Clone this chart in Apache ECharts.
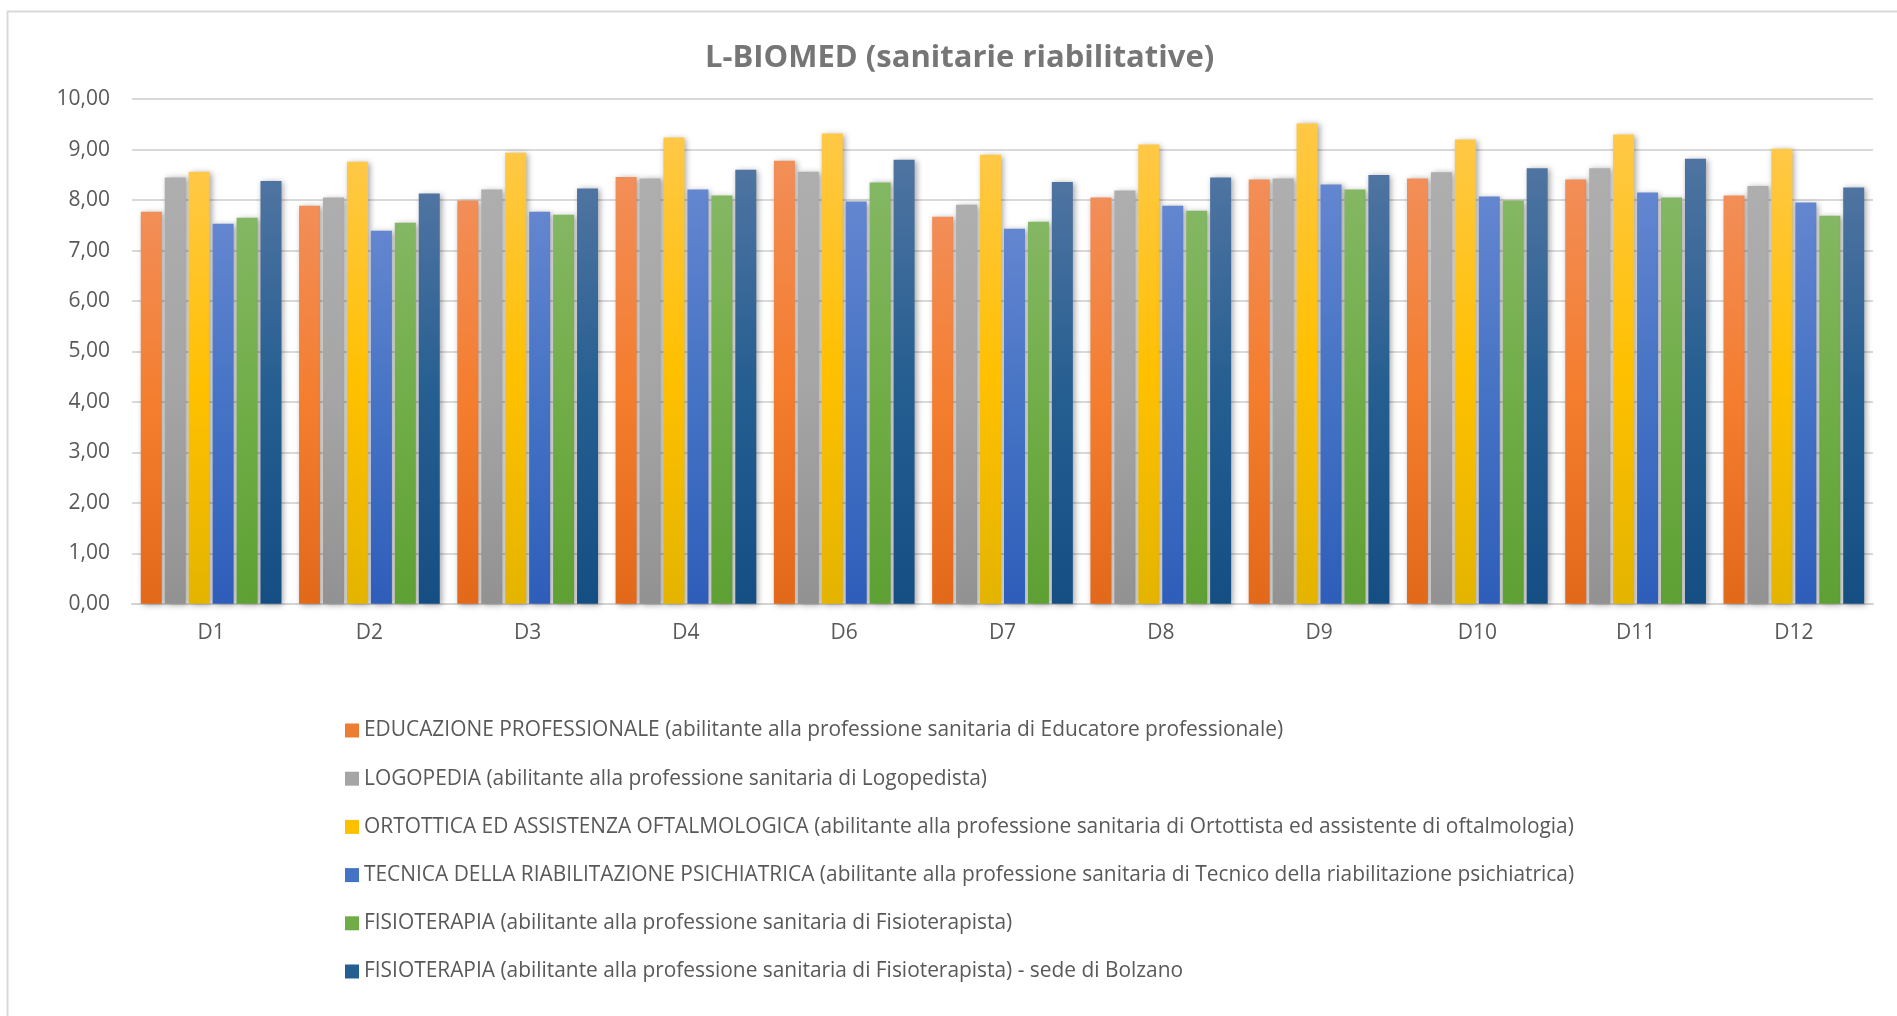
<!DOCTYPE html>
<html><head><meta charset="utf-8">
<script src="https://cdn.jsdelivr.net/npm/echarts@6/dist/echarts.min.js"></script>
<style>html,body{margin:0;padding:0;background:#fff;}#c{width:1897px;height:1016px;}</style>
</head><body><div id="c"></div>
<script>
const categories = ['D1','D2','D3','D4','D6','D7','D8','D9','D10','D11','D12'];
const seriesNames = [
  'EDUCAZIONE PROFESSIONALE (abilitante alla professione sanitaria di Educatore professionale)',
  'LOGOPEDIA (abilitante alla professione sanitaria di Logopedista)',
  'ORTOTTICA ED ASSISTENZA OFTALMOLOGICA (abilitante alla professione sanitaria di Ortottista ed assistente di oftalmologia)',
  'TECNICA DELLA RIABILITAZIONE PSICHIATRICA (abilitante alla professione sanitaria di Tecnico della riabilitazione psichiatrica)',
  'FISIOTERAPIA (abilitante alla professione sanitaria di Fisioterapista)',
  'FISIOTERAPIA (abilitante alla professione sanitaria di Fisioterapista) - sede di Bolzano'
];
const educazione   = [7.77, 7.89, 7.99, 8.46, 8.78, 7.67, 8.05, 8.41, 8.43, 8.41, 8.09];
const logopedia    = [8.45, 8.05, 8.21, 8.43, 8.56, 7.91, 8.19, 8.43, 8.55, 8.63, 8.28];
const ortottica    = [8.56, 8.76, 8.94, 9.24, 9.32, 8.90, 9.10, 9.52, 9.20, 9.30, 9.02];
const tecnica      = [7.53, 7.39, 7.77, 8.21, 7.97, 7.43, 7.89, 8.31, 8.07, 8.15, 7.95];
const fisioterapia = [7.65, 7.55, 7.71, 8.09, 8.35, 7.57, 7.79, 8.21, 7.99, 8.05, 7.69];
const fisioBolzano = [8.38, 8.13, 8.23, 8.60, 8.80, 8.36, 8.45, 8.50, 8.63, 8.82, 8.25];
const yTicks = [0,1,2,3,4,5,6,7,8,9,10];

const allData = [educazione, logopedia, ortottica, tecnica, fisioterapia, fisioBolzano];
const gradients = [
  ['#F28E58','#F47D2E','#E3691A'],
  ['#AEAEAE','#A5A5A5','#929292'],
  ['#FFC846','#FFC000','#E4B400'],
  ['#6486D0','#4472C4','#2E5EBA'],
  ['#84B763','#70AD47','#5EA033'],
  ['#4F74A1','#255E91','#154E83']
];
const legendColors = ['#ED7D31','#A5A5A5','#FFC000','#4472C4','#70AD47','#255E91'];

function grad(c){
  return new echarts.graphic.LinearGradient(0,0,0,1,[
    {offset:0,color:c[0]},{offset:0.5,color:c[1]},{offset:1,color:c[2]}]);
}

const chart = echarts.init(document.getElementById('c'));
const FONT = '"Open Sans", "Noto Sans", sans-serif';
chart.setOption({
  animation:false,
  textStyle:{fontFamily:FONT},
  graphic:[{type:'rect',left:5,top:9,shape:{width:1900,height:1020},style:{fill:'none',stroke:'#D9D9D9',lineWidth:2},z:-1}],
  title:{text:'L-BIOMED (sanitarie riabilitative)',left:700,top:38,
    textStyle:{fontFamily:FONT,fontSize:31,fontWeight:'bold',color:'#767676'}},
  legend:{orient:'vertical',left:340,top:714.5,itemWidth:14,itemHeight:14,itemGap:26.2,
    icon:'rect',
    textStyle:{fontFamily:FONT,fontSize:20.9,color:'#595959',lineHeight:22},
    data:seriesNames.map((n,i)=>({name:n,itemStyle:{color:legendColors[i]}}))},
  grid:{left:132,right:24,top:99.2,bottom:412.3,containLabel:false},
  xAxis:{type:'category',data:categories,
    axisLine:{lineStyle:{color:'#D3D3D3',width:2}},axisTick:{show:false},
    axisLabel:{color:'#595959',fontSize:21,margin:19,fontFamily:FONT}},
  yAxis:{type:'value',min:yTicks[0],max:yTicks[yTicks.length-1],interval:1,
    axisLine:{show:false},axisTick:{show:false},
    splitLine:{lineStyle:{color:'#D9D9D9',width:2}},
    axisLabel:{color:'#595959',fontSize:21,margin:22,fontFamily:FONT,
      formatter:v=>v.toFixed(2).replace('.',',')}},
  series:allData.map((d,i)=>({
    name:seriesNames[i],type:'bar',data:d,barWidth:21,barGap:'14%',
    itemStyle:{color:grad(gradients[i]),shadowBlur:6,shadowColor:'rgba(0,0,0,0.35)',shadowOffsetX:2,shadowOffsetY:1}
  }))
});
</script></body></html>
